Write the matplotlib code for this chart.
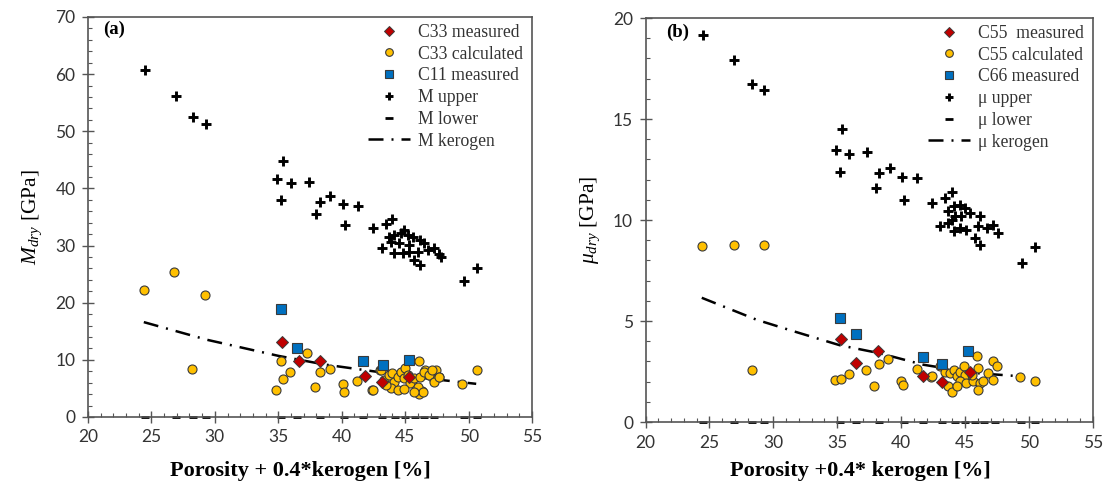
import matplotlib
matplotlib.use("Agg")
import matplotlib.pyplot as plt
from matplotlib.ticker import MultipleLocator

plt.rcParams['mathtext.fontset'] = 'custom'
plt.rcParams['mathtext.rm'] = 'Liberation Serif'
plt.rcParams['mathtext.it'] = 'Liberation Serif:italic'

# ---------------- Panel (a) data ----------------
a_meas_x = [35.3, 36.6, 38.3, 41.8, 43.2, 45.3]
a_meas_y = [13.1, 9.8, 9.8, 7.2, 6.1, 7.0]

a_calc_x = [24.4, 26.8, 29.2, 28.2, 35.2, 35.4, 34.8, 35.9, 37.3, 38.3, 37.9, 39.1,
            40.1, 40.2, 41.2, 42.4, 43.0, 46.1, 46.6, 47.4, 46.9, 47.7, 47.3, 49.5,
            50.65, 46.3, 46.1,
            43.1, 43.3, 43.7, 44.0, 44.1, 44.4, 44.65, 44.9, 45.0, 45.2, 45.4, 45.7,
            46.0, 46.2, 46.4, 46.5, 46.9, 47.15, 47.3, 47.7, 43.9, 44.4, 44.9, 45.7,
            43.5, 42.5]
a_calc_y = [22.3, 25.4, 21.4, 8.4, 9.8, 6.6, 4.7, 7.8, 11.2, 7.8, 5.3, 8.4,
            5.8, 4.4, 6.3, 4.8, 8.2, 9.85, 8.2, 8.2, 7.4, 7.0, 6.4, 5.7,
            8.2, 4.6, 4.1,
            8.2, 6.5, 7.35, 7.65, 6.2, 7.05, 7.9, 6.75, 8.5, 7.35, 5.9, 6.75,
            5.3, 7.05, 4.4, 7.9, 7.35, 8.2, 6.2, 7.05, 5.0, 4.7, 4.85, 4.4,
            5.6, 4.7]

a_c11_x = [35.2, 36.5, 41.7, 43.25, 45.3]
a_c11_y = [18.9, 12.1, 9.8, 9.1, 10.0]

a_up_x = [24.5, 26.9, 28.3, 29.3, 35.4, 34.9, 36.0, 37.4, 35.25, 39.1, 38.3, 38.0,
          40.1, 41.3, 40.25, 42.46, 43.5, 44.0,
          44.1, 44.65, 45.2, 45.6, 44.9, 46.2, 46.5, 46.8, 47.3, 47.7, 47.8, 46.0,
          45.7, 46.2, 43.2, 44.1, 44.8, 45.3, 43.9, 44.5, 45.3, 43.7, 49.6, 50.7]
a_up_y = [60.7, 56.1, 52.5, 51.3, 44.8, 41.7, 41.0, 41.1, 38.0, 38.6, 37.6, 35.5,
          37.2, 36.9, 33.6, 33.0, 33.8, 34.6,
          31.85, 32.15, 31.85, 31.55, 32.7, 31.0, 30.4, 29.2, 29.5, 28.6, 28.05, 28.9,
          27.5, 26.6, 29.5, 28.65, 28.65, 28.9, 30.7, 30.4, 30.1, 31.55, 23.8, 26.1]

a_low_x = [24.5, 26.9, 28.3, 29.3, 35.2, 36.5, 38.3, 40.2, 41.7, 43.2, 44.2, 45.0,
           45.8, 46.5, 47.3, 49.6, 50.7]
a_low_y = [0.0] * len(a_low_x)

a_ker_x = [24.4, 29.4, 35.0, 38.6, 42.8, 46.5, 50.6]
a_ker_y = [16.6, 13.5, 10.7, 9.2, 7.9, 6.8, 5.8]

# ---------------- Panel (b) data ----------------
b_meas_x = [35.27, 36.5, 38.2, 41.7, 43.2, 45.4]
b_meas_y = [4.1, 2.94, 3.53, 2.3, 2.0, 2.5]

b_calc_x = [24.4, 26.9, 29.3, 28.3, 34.8, 35.3, 35.9, 37.25, 38.25, 39.0, 37.9, 40.0,
            40.15, 41.2, 42.3, 42.4, 45.96, 47.2, 47.5, 49.3, 50.5,
            43.0, 43.4, 43.8, 44.1, 44.35, 44.6, 44.9, 45.0, 44.6, 45.1, 43.7, 43.96,
            44.35, 45.65, 46.0, 46.2, 46.4, 46.0, 46.8, 47.2, 45.5]
b_calc_y = [8.73, 8.78, 8.78, 2.57, 2.08, 2.13, 2.4, 2.57, 2.87, 3.1, 1.76, 2.04,
            1.83, 2.64, 2.24, 2.29, 3.28, 3.0, 2.75, 2.23, 2.01,
            2.75, 2.5, 2.42, 2.59, 2.26, 2.5, 2.75, 2.34, 2.01, 1.93, 1.76, 1.47,
            1.8, 2.01, 2.67, 1.93, 2.01, 1.6, 2.42, 2.09, 2.34]

b_c66_x = [35.2, 36.5, 41.7, 43.18, 45.2]
b_c66_y = [5.13, 4.36, 3.2, 2.87, 3.51]

b_up_x = [24.5, 26.95, 28.3, 29.3, 35.4, 34.9, 35.9, 37.3, 35.24, 38.3, 39.1, 40.1,
          41.2, 38.0, 40.2, 42.4, 43.4, 43.96,
          43.7, 44.1, 44.6, 45.0, 45.4, 43.04, 43.96, 44.1, 44.6, 45.1, 43.7, 46.2,
          46.0, 46.7, 47.2, 47.6, 45.8, 46.2, 44.2, 44.7, 49.44, 50.5]
b_up_y = [19.14, 17.9, 16.75, 16.43, 14.5, 13.48, 13.27, 13.37, 12.36, 12.33, 12.59, 12.13,
          12.08, 11.58, 11.0, 10.84, 11.1, 11.37,
          10.43, 10.67, 10.76, 10.59, 10.35, 9.68, 10.0, 9.44, 9.6, 9.52, 9.85, 10.18,
          9.68, 9.6, 9.77, 9.36, 9.1, 8.78, 10.18, 10.18, 7.87, 8.64]

b_low_x = [24.5, 26.9, 28.3, 29.3, 35.2, 36.5, 38.3, 40.2, 41.7, 43.2, 44.2, 45.0,
           45.8, 46.5, 47.3, 49.4, 50.5]
b_low_y = [0.0] * len(b_low_x)

b_ker_x = [24.4, 28.7, 31.6, 35.2, 38.35, 41.7, 45.65, 49.4]
b_ker_y = [6.15, 5.06, 4.49, 3.8, 3.4, 2.84, 2.43, 2.26]

# ---------------- styles ----------------
YEL = '#FFC000'
RED = '#C00000'
BLU = '#0070C0'
EDGE = '#3a3a3a'
SPINE = '#555555'
TXT = '#333333'
KER_LS = (0, (6, 3.2, 0.8, 3.2))

fig = plt.figure(figsize=(11.04, 4.98), dpi=100)
ax1 = fig.add_axes([0.0797, 0.1627, 0.4022, 0.8032])
ax2 = fig.add_axes([0.5847, 0.1526, 0.4053, 0.8112])


def draw(ax, up, low, ker, calc, meas, sq, labels, ymax, ymaj, ymin):
    ax.plot(*meas, ls='none', marker='D', ms=6, mfc=RED, mec=EDGE, mew=0.7,
            label=labels[0], zorder=6)
    ax.plot(*calc, ls='none', marker='o', ms=6.5, mfc=YEL, mec=EDGE, mew=0.8,
            label=labels[1], zorder=4)
    ax.plot(*sq, ls='none', marker='s', ms=6.5, mfc=BLU, mec=EDGE, mew=0.8,
            label=labels[2], zorder=5)
    ax.plot(*up, ls='none', marker='+', ms=7.5, mew=2.1, color='black',
            label=labels[3], zorder=3)
    ax.plot(*low, ls='none', marker='_', ms=6, mew=2.0, color='black',
            label=labels[4], zorder=1.5, clip_on=False)
    ax.plot(*ker, ls=KER_LS, lw=1.8, color='black', label=labels[5], zorder=3)

    ax.set_xlim(20, 55)
    ax.set_ylim(0, ymax)
    ax.xaxis.set_major_locator(MultipleLocator(5))
    ax.xaxis.set_minor_locator(MultipleLocator(1))
    ax.yaxis.set_major_locator(MultipleLocator(ymaj))
    ax.yaxis.set_minor_locator(MultipleLocator(ymin))
    ax.tick_params(which='major', direction='inout', length=8, width=1.0,
                   color=SPINE, labelsize=12.5, labelcolor=TXT, pad=5,
                   top=False, right=False)
    ax.tick_params(which='minor', direction='in', length=3, width=0.8,
                   color=SPINE, top=False, right=False)
    for lab in ax.get_xticklabels() + ax.get_yticklabels():
        lab.set_fontfamily('Lato')
    for s in ax.spines.values():
        s.set_color(SPINE)
        s.set_linewidth(1.2)

    leg = ax.legend(loc='upper right', bbox_to_anchor=(1.0, 1.005), frameon=False,
                    prop={'family': 'Liberation Serif', 'size': 12.7},
                    handlelength=2.4, handletextpad=0.45, labelspacing=0.27,
                    borderaxespad=0.1, markerscale=0.85)
    for t in leg.get_texts():
        t.set_color(TXT)


draw(ax1, (a_up_x, a_up_y), (a_low_x, a_low_y), (a_ker_x, a_ker_y),
     (a_calc_x, a_calc_y), (a_meas_x, a_meas_y), (a_c11_x, a_c11_y),
     ['C33 measured', 'C33 calculated', 'C11 measured', 'M upper', 'M lower',
      'M kerogen'], 70, 10, 2)
draw(ax2, (b_up_x, b_up_y), (b_low_x, b_low_y), (b_ker_x, b_ker_y),
     (b_calc_x, b_calc_y), (b_meas_x, b_meas_y), (b_c66_x, b_c66_y),
     ['C55  measured', 'C55 calculated', 'C66 measured', 'μ upper', 'μ lower',
      'μ kerogen'], 20, 5, 1)

ax1.text(0.035, 0.99, '(a)', transform=ax1.transAxes, fontsize=13.5,
         fontweight='bold', family='Liberation Serif', va='top', ha='left')
ax2.text(0.045, 0.985, '(b)', transform=ax2.transAxes, fontsize=13.5,
         fontweight='bold', family='Liberation Serif', va='top', ha='left')

ax1.set_xlabel('Porosity + 0.4*kerogen [%]', family='Liberation Serif',
               fontweight='bold', fontsize=16, labelpad=11)
ax2.set_xlabel('Porosity +0.4* kerogen [%]', family='Liberation Serif',
               fontweight='bold', fontsize=16, labelpad=7.5)
ax1.xaxis.label.set_x(0.478)
ax2.xaxis.label.set_x(0.48)
ax1.set_ylabel(r'$\mathit{M}_{\mathit{dry}}$ [GPa]', family='Liberation Serif',
               fontsize=15.5, labelpad=8)
ax2.set_ylabel(r'$\mathit{μ}_{\mathit{dry}}$ [GPa]', family='Liberation Serif',
               fontsize=15.5, labelpad=8)

fig.savefig('out.png', dpi=100)
